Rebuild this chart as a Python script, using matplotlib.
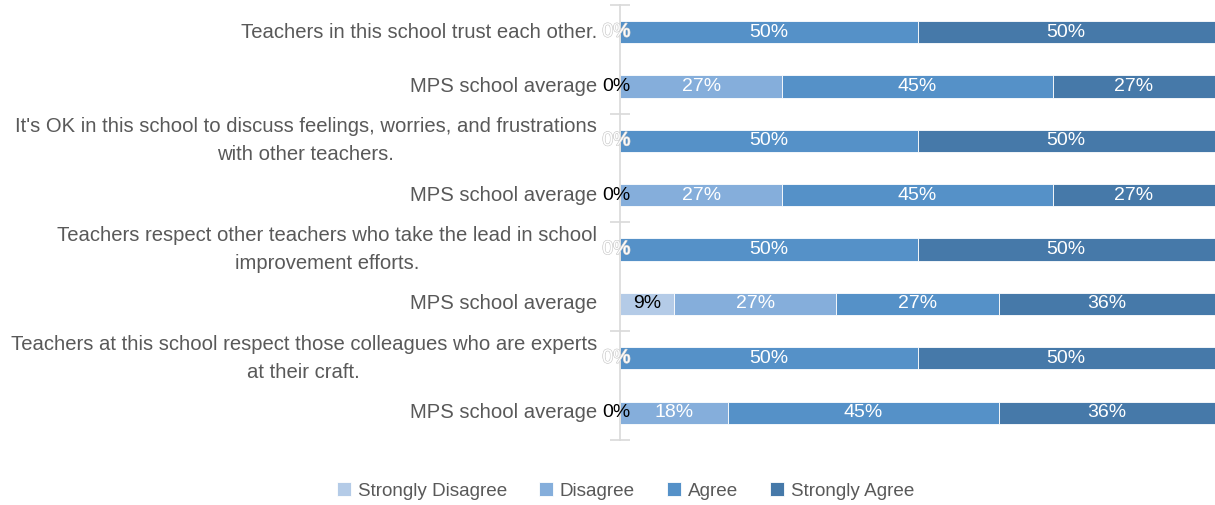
import matplotlib.pyplot as plt
import matplotlib.patheffects as pe
import numpy as np

plt.rcParams['font.family'] = ['Liberation Sans', 'DejaVu Sans']

categories = [
    "Teachers in this school trust each other.",
    "MPS school average",
    "It's OK in this school to discuss feelings, worries, and frustrations\nwith other teachers.",
    "MPS school average",
    "Teachers respect other teachers who take the lead in school\nimprovement efforts.",
    "MPS school average",
    "Teachers at this school respect those colleagues who are experts\nat their craft.",
    "MPS school average",
]
series = ["Strongly Disagree", "Disagree", "Agree", "Strongly Agree"]
strongly_disagree = [0, 0, 0, 0, 0, 9.09, 0, 0]
disagree = [0, 27.27, 0, 27.27, 0, 27.27, 0, 18.18]
agree = [50, 45.45, 50, 45.45, 50, 27.27, 50, 45.45]
strongly_agree = [50, 27.27, 50, 27.27, 50, 36.36, 50, 36.36]

colors = ["#b4cbe7", "#85aedb", "#5591c8", "#4679a9"]
text_gray = "#595959"
fs = 14

fig = plt.figure(figsize=(12.15, 5.05), dpi=100)
ax = fig.add_axes([0.5103, 0.129, 0.4897, 0.861])

y = np.arange(len(categories))
left = np.zeros(len(categories))
for name, vals, col in zip(series, [strongly_disagree, disagree, agree, strongly_agree], colors):
    vals = np.array(vals)
    ax.barh(y, vals, left=left, height=0.41, color=col, label=name,
            edgecolor='white', linewidth=0.6)
    for i, v in enumerate(vals):
        cx = left[i] + v / 2
        is_mps = categories[i] == "MPS school average"
        txt = f"{round(v):d}%"
        if v == 0:
            if is_mps:
                if name == "Strongly Disagree":
                    ax.text(cx - 0.6, y[i], txt, ha='center', va='center', fontsize=fs, color='black')
            else:
                ax.text(cx - 0.6, y[i], txt, ha='center', va='center', fontsize=fs, color='white',
                        path_effects=[pe.withStroke(linewidth=0.8, foreground='#cfcfcf')])
        elif name == "Strongly Disagree":
            ax.text(cx, y[i], txt, ha='center', va='center', fontsize=fs, color='black')
        else:
            ax.text(cx, y[i], txt, ha='center', va='center', fontsize=fs, color='white')
    left += vals

ax.set_xlim(0, 100)
ax.set_ylim(len(categories) - 0.5, -0.5)
ax.set_xticks([])
ax.set_yticks(y)
ax.set_yticklabels([])
for i, c in enumerate(categories):
    ax.text(-3.9, y[i], c, ha='right', va='center', multialignment='center',
            fontsize=14.6, color=text_gray, linespacing=1.6)

ax.set_yticks(np.arange(-0.5, len(categories), 2), minor=True)
ax.tick_params(axis='y', which='major', length=0)
ax.tick_params(axis='y', which='minor', direction='inout', length=15, color='#d9d9d9', width=1.2)
for s in ['top', 'right', 'bottom']:
    ax.spines[s].set_visible(False)
ax.spines['left'].set_color('#d9d9d9')
ax.spines['left'].set_linewidth(1.2)

handles, labels = ax.get_legend_handles_labels()
fig.legend(handles, labels, loc='center', bbox_to_anchor=(0.515, 0.028), ncol=4, frameon=False,
           fontsize=13.6, labelcolor=text_gray, handlelength=0.75, handleheight=0.75,
           handletextpad=0.35, columnspacing=1.7)

fig.savefig("out.png", dpi=100)
